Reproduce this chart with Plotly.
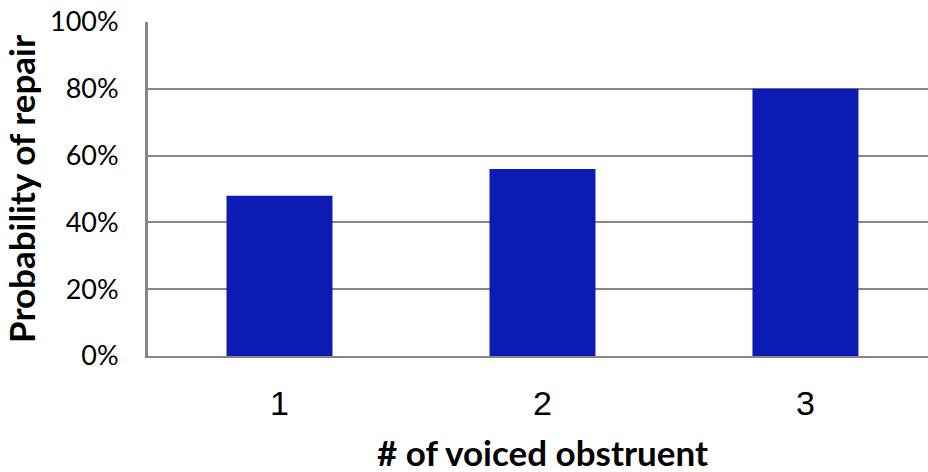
import plotly.graph_objects as go

# Number of voiced obstruents and the share of items that were repaired
categories = ["1", "2", "3"]
repair_prob = [0.48, 0.56, 0.80]
y_ticks = [0, 0.2, 0.4, 0.6, 0.8, 1.0]
y_tick_labels = ["0%", "20%", "40%", "60%", "80%", "100%"]
x_title = "# of voiced obstruent"
y_title = "Probability of repair"

GRID = "#878787"
BAR = "#0B1BB4"

fig = go.Figure(
    go.Bar(
        x=categories,
        y=repair_prob,
        marker=dict(color=BAR, line=dict(width=0)),
        width=0.403,
    )
)

fig.update_layout(
    width=928,
    height=472,
    margin=dict(l=148, r=0, t=22, b=116, autoexpand=False),
    paper_bgcolor="white",
    plot_bgcolor="white",
    showlegend=False,
    font=dict(family="Lato", color="black"),
)

fig.update_xaxes(
    type="category",
    range=[-0.5, 2.466],
    showgrid=False,
    showline=True,
    linecolor=GRID,
    linewidth=2,
    ticks="",
    tickfont=dict(family="Liberation Sans", size=34, color="black"),
    ticklabelstandoff=16,
)

# x-axis title sits under the middle category (category index 1)
fig.add_annotation(
    text=f"<b>{x_title}</b>",
    x=categories.index("2"),
    xref="x",
    y=0,
    yref="paper",
    yanchor="top",
    yshift=-73,
    showarrow=False,
    font=dict(family="Lato", size=35, color="black"),
)

fig.update_yaxes(
    range=[0, 1.0],
    tickvals=y_ticks,
    ticktext=y_tick_labels,
    showgrid=True,
    gridcolor=GRID,
    gridwidth=2,
    zeroline=False,
    showline=True,
    linecolor=GRID,
    linewidth=3,
    ticks="",
    tickfont=dict(family="Lato", size=27, color="black"),
    ticklabelstandoff=21,
    title=dict(
        text=f"<b>{y_title}</b>",
        font=dict(family="Lato", size=35, color="black"),
        standoff=8,
    ),
)

fig.write_html("out.html")
